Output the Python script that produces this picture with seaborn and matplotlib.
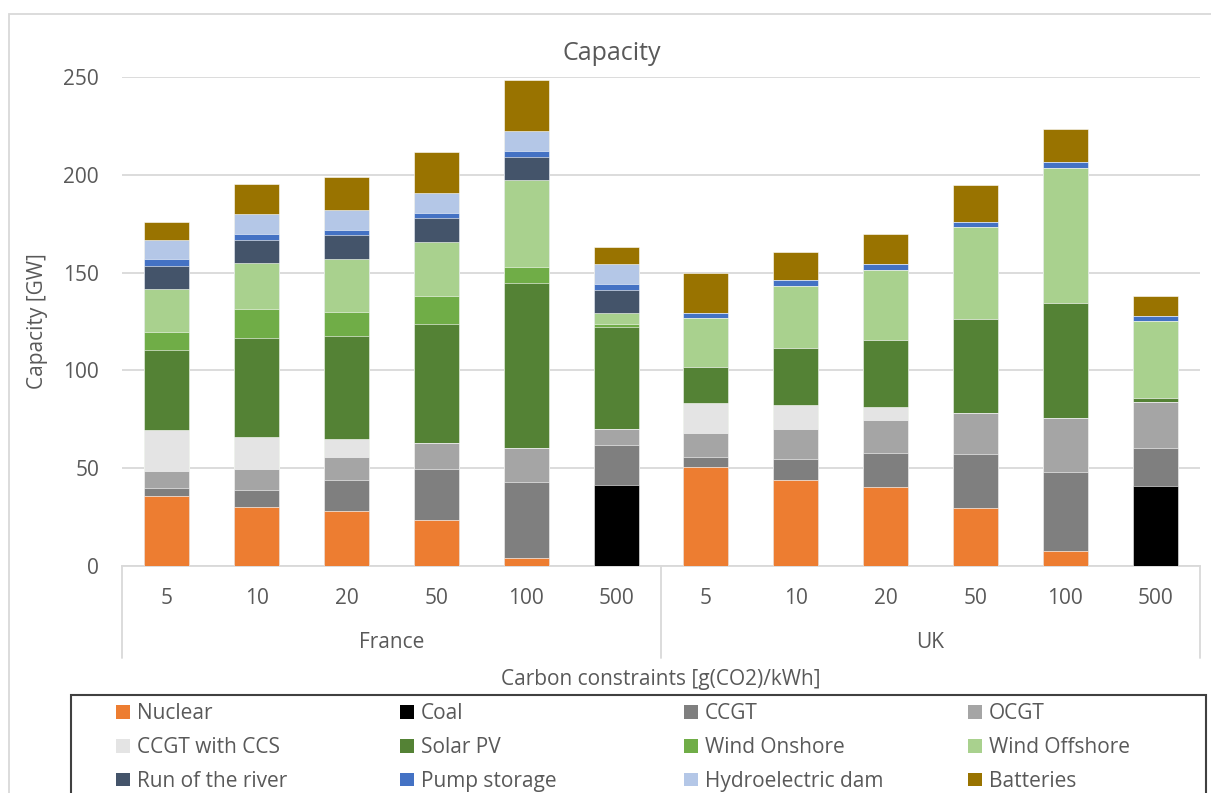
import numpy as np
import pandas as pd
import matplotlib
matplotlib.use("Agg")
import matplotlib.pyplot as plt
from matplotlib.patches import Patch, Rectangle
from matplotlib.lines import Line2D
import seaborn as sns

# ---- data (GW) ----
countries = ["France", "UK"]
constraints = ["5", "10", "20", "50", "100", "500"]

technologies = ["Nuclear", "Coal", "CCGT", "OCGT", "CCGT with CCS", "Solar PV",
                "Wind Onshore", "Wind Offshore", "Run of the river", "Pump storage",
                "Hydroelectric dam", "Batteries"]

# one value per bar: France 5..500, then UK 5..500
nuclear       = [35.8, 30.2, 28.2, 23.5, 4.1, 0.0,   50.5, 44.2, 40.4, 29.9, 7.8, 0.0]
coal          = [0.0, 0.0, 0.0, 0.0, 0.0, 41.5,      0.0, 0.0, 0.0, 0.0, 0.0, 41.1]
ccgt          = [4.0, 8.7, 15.8, 26.0, 38.7, 20.3,   5.1, 10.6, 17.3, 27.4, 40.3, 19.1]
ocgt          = [9.0, 10.8, 11.6, 13.6, 17.3, 8.0,   12.5, 15.2, 16.9, 20.7, 27.7, 23.4]
ccgt_ccs      = [20.5, 16.0, 9.4, 0.0, 0.0, 0.0,     15.0, 12.4, 6.6, 0.0, 0.0, 0.0]
solar_pv      = [41.3, 51.0, 52.6, 60.8, 84.8, 52.6, 18.4, 29.0, 34.3, 48.3, 58.8, 2.4]
wind_onshore  = [8.9, 14.7, 12.4, 14.2, 8.0, 1.3,    0.0, 0.0, 0.0, 0.0, 0.0, 0.0]
wind_offshore = [22.1, 23.5, 27.2, 27.6, 44.4, 5.6,  25.1, 31.9, 35.9, 47.1, 69.0, 39.3]
run_of_river  = [12.0, 11.8, 12.1, 12.3, 11.9, 12.0, 0.0, 0.0, 0.0, 0.0, 0.0, 0.0]
pump_storage  = [3.1, 3.1, 2.7, 2.7, 3.1, 3.1,       2.8, 2.9, 3.0, 2.7, 2.9, 2.7]
hydro_dam     = [9.9, 10.2, 10.1, 9.9, 9.9, 10.0,    0.0, 0.0, 0.0, 0.0, 0.0, 0.0]
batteries     = [9.2, 15.4, 17.0, 21.2, 26.1, 8.6,   20.6, 14.2, 15.4, 18.8, 16.7, 10.1]

series = [nuclear, coal, ccgt, ocgt, ccgt_ccs, solar_pv, wind_onshore,
          wind_offshore, run_of_river, pump_storage, hydro_dam, batteries]

colors = ["#ED7D31", "#000000", "#7F7F7F", "#A5A5A5", "#E4E4E4", "#548235",
          "#70AD47", "#A9D18E", "#44546A", "#4472C4", "#B4C7E7", "#997300"]

# ---- long table with cumulative tops for stacking ----
slots = [f"{c} {k}" for c in countries for k in constraints]
values = np.array(series)
cum = np.cumsum(values, axis=0)
rows = []
for ti, tech in enumerate(technologies):
    for si, slot in enumerate(slots):
        rows.append({"slot": slot, "tech": tech, "top": cum[ti, si]})
df = pd.DataFrame(rows)

sns.set_theme(style="white")
plt.rcParams["font.family"] = ["Open Sans", "DejaVu Sans"]
text_color = "#595959"
grid_color = "#D9D9D9"
fs = 15

W, H = 1211, 793
fig = plt.figure(figsize=(W / 100, H / 100), dpi=100)
ax = fig.add_axes([122 / W, 1 - 566 / H, (1200 - 122) / W, (566 - 77) / H])

# draw from the tallest cumulative layer downwards so lower layers sit on top
for ti in range(len(technologies) - 1, -1, -1):
    sub = df[df["tech"] == technologies[ti]]
    sns.barplot(data=sub, x="slot", y="top", order=slots, color=colors[ti],
                width=0.5, saturation=1, ax=ax, edgecolor="white", linewidth=0.4,
                zorder=3)

ax.set_ylim(0, 250)
ax.set_xlim(-0.5, len(slots) - 0.5)
ax.set_yticks([0, 50, 100, 150, 200, 250])
ax.yaxis.grid(True, color=grid_color, linewidth=1.3, zorder=0)
ax.set_axisbelow(True)
for s in ["top", "right", "left"]:
    ax.spines[s].set_visible(False)
ax.spines["bottom"].set_color(grid_color)
ax.spines["bottom"].set_linewidth(1.3)
ax.tick_params(axis="y", length=0, pad=16.5, labelsize=fs, labelcolor=text_color)
ax.tick_params(axis="x", length=0, pad=16, labelsize=fs, labelcolor=text_color)
ax.set_xticks(range(len(slots)))
ax.set_xticklabels(constraints * len(countries))
ax.set_xlabel("")
ax.set_ylabel("Capacity [GW]", fontsize=fs, color=text_color, labelpad=11)

# chart title, centred on the whole chart area
fig.text(611.5 / W, 1 - 54 / H, "Capacity", ha="center", va="center",
         fontsize=18, color=text_color)

# two-level category axis: group labels and separators
tr = ax.get_xaxis_transform()
for gi, c in enumerate(countries):
    center = gi * len(constraints) + (len(constraints) - 1) / 2
    ax.text(center, -0.157, c, transform=tr, ha="center", va="center",
            fontsize=fs, color=text_color)
for xb in [-0.5, len(constraints) - 0.5, len(slots) - 0.5]:
    ax.add_line(Line2D([xb, xb], [0, -0.188], transform=tr, color=grid_color,
                       linewidth=1.3, clip_on=False))

fig.text((122 + 1200) / 2 / W, 1 - 680 / H, "Carbon constraints [g(CO2)/kWh]",
         ha="center", va="center", fontsize=fs, color=text_color)

# outer chart frame
fig.add_artist(Rectangle((8.5 / W, -0.05), 1.1, 1 - 14 / H + 0.05,
                         transform=fig.transFigure, fill=False,
                         edgecolor=grid_color, linewidth=1.3))

# legend frame, then four columns filled row by row
fig.add_artist(Rectangle((71 / W, -0.05), (1206 - 71) / W, 1 - 695 / H + 0.05,
                         transform=fig.transFigure, fill=False,
                         edgecolor="#404040", linewidth=1.5))
ncol = 4
col_x = [116, 400, 684, 968]
for c in range(ncol):
    idx = list(range(c, len(technologies), ncol))
    hs = [Patch(facecolor=colors[i], edgecolor="none") for i in idx]
    labs = [technologies[i] for i in idx]
    leg = fig.legend(hs, labs, loc="upper left",
                     bbox_to_anchor=(col_x[c] / W, 1 - 703 / H),
                     frameon=False, fontsize=fs, handlelength=0.65,
                     handleheight=0.65, handletextpad=0.35, labelspacing=0.62,
                     borderpad=0, borderaxespad=0)
    for t in leg.get_texts():
        t.set_color(text_color)

fig.savefig("out.png", dpi=100)
